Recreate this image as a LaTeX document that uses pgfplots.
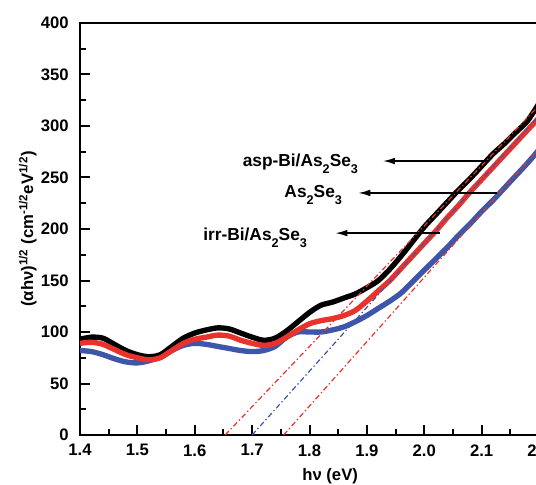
\documentclass[border=0pt]{standalone}
\usepackage{fontspec}
\setmainfont{Liberation Sans}
\usepackage{pgfplots}
\pgfplotsset{compat=1.18}
\usepackage{pgfplotstable}
\usetikzlibrary{arrows.meta}

\definecolor{cred}{HTML}{E8322B}
\definecolor{cblue}{HTML}{3E56A8}
\newcommand\ff{\fontsize{12.5}{15}\selectfont\bfseries}
\newcommand\fa{\fontsize{13}{15}\selectfont\bfseries}
\newcommand\sub[1]{\raisebox{-0.4em}{\fontsize{9.5}{10}\selectfont #1}}

% hv, (alpha hv)^1/2 for asp-Bi, As2Se3, irr-Bi
\pgfplotstableread{
x    asp  pure irr
1.40 93   89   82
1.42 95   90   81
1.44 94   88   78
1.46 88   83   74
1.48 82   78   71
1.50 78   75   70
1.52 76   73   72
1.54 78   75   76
1.56 86   82   82
1.58 94   89   87
1.60 99   93   89
1.62 102  95   88
1.64 104  97   86
1.66 103  96   84
1.68 99   92   82
1.70 95   89   81
1.72 92   87   82
1.74 94   89   86
1.76 101  95   95
1.78 110  102  100
1.80 119  108  100
1.82 126  111  100
1.84 129  113  102
1.86 133  116  105
1.88 137  121  110
1.90 143  130  116
1.92 150  140  123
1.94 161  150  130
1.96 174  162  138
1.98 188  174  149
2.00 202  186  160
2.02 214  198  171
2.04 226  211  182
2.06 238  223  194
2.08 249  236  205
2.10 261  248  217
2.12 273  260  228
2.14 283  272  240
2.16 294  284  252
2.18 305  296  264
2.20 322  308  277
}\tauc

\begin{document}
\begin{tikzpicture}
\begin{axis}[
    name=ax,
    scale only axis,
    width=344.25pt, height=309pt,
    xmin=1.4, xmax=2.2, ymin=0, ymax=400,
    xtick={1.4,1.5,1.6,1.7,1.8,1.9,2.0,2.1,2.2},
    ytick={0,50,100,150,200,250,300,350,400},
    minor x tick num=1, minor y tick num=1,
    tick pos=left, tick align=inside,
    major tick length=7.5pt, minor tick length=4.5pt,
    axis line style={line width=1.5pt},
    every tick/.style={black, line width=1.5pt},
    /pgf/number format/assume math mode=true,
    every tick label/.append style={font=\ff},
    xticklabel style={yshift=-3.5pt, /pgf/number format/.cd, fixed, fixed zerofill, precision=1},
    yticklabel style={xshift=-5pt},
    label style={font=\ff},
    xlabel={hν (eV)},
    ylabel={(αhν)\textsuperscript{1/2} (cm\textsuperscript{-1/2}eV\textsuperscript{1/2})},
    xlabel style={at={(axis description cs:0.545,-0.08)}, anchor=north, inner sep=0pt},
    ylabel style={at={(axis description cs:-0.094,0.5)}, anchor=south, inner sep=0pt},
]
\addplot[cblue, line width=4pt, smooth, line join=round] table[x=x, y=irr] {\tauc};
\addplot[black, line width=4pt, smooth, line join=round] table[x=x, y=asp] {\tauc};
\addplot[cred, line width=4pt, smooth, line join=round] table[x=x, y=pure] {\tauc};

\addplot[cred, line width=0.9pt, dash pattern=on 4pt off 2pt on 1pt off 2pt] coordinates {(1.653,0) (2.2,320)};
\addplot[cblue, line width=0.9pt, dash pattern=on 4pt off 2pt on 1pt off 2pt] coordinates {(1.70,0) (2.2,310)};
\addplot[cred, line width=0.9pt, dash pattern=on 4pt off 2pt on 1pt off 2pt] coordinates {(1.755,0) (2.2,278)};

\draw[line width=1.1pt, -{Latex[length=9pt,width=5pt]}] (axis cs:2.111,266) -- (axis cs:1.928,266);
\draw[line width=1.1pt, -{Latex[length=9pt,width=5pt]}] (axis cs:2.127,235) -- (axis cs:1.885,235);
\draw[line width=1.1pt, -{Latex[length=9pt,width=5pt]}] (axis cs:2.028,196) -- (axis cs:1.845,196);

\node[anchor=base east, inner sep=0pt, font=\fa] at (axis cs:1.885,261) {asp-Bi/As\sub{2}Se\sub{3}};
\node[anchor=base east, inner sep=0pt, font=\fa] at (axis cs:1.857,231) {As\sub{2}Se\sub{3}};
\node[anchor=base east, inner sep=0pt, font=\fa] at (axis cs:1.796,189) {irr-Bi/As\sub{2}Se\sub{3}};
\end{axis}
\pgfresetboundingbox
\useasboundingbox ([shift={(-60pt,-36.75pt)}]ax.south west) rectangle ([shift={(-2.25pt,17.25pt)}]ax.north east);
\end{tikzpicture}
\end{document}
